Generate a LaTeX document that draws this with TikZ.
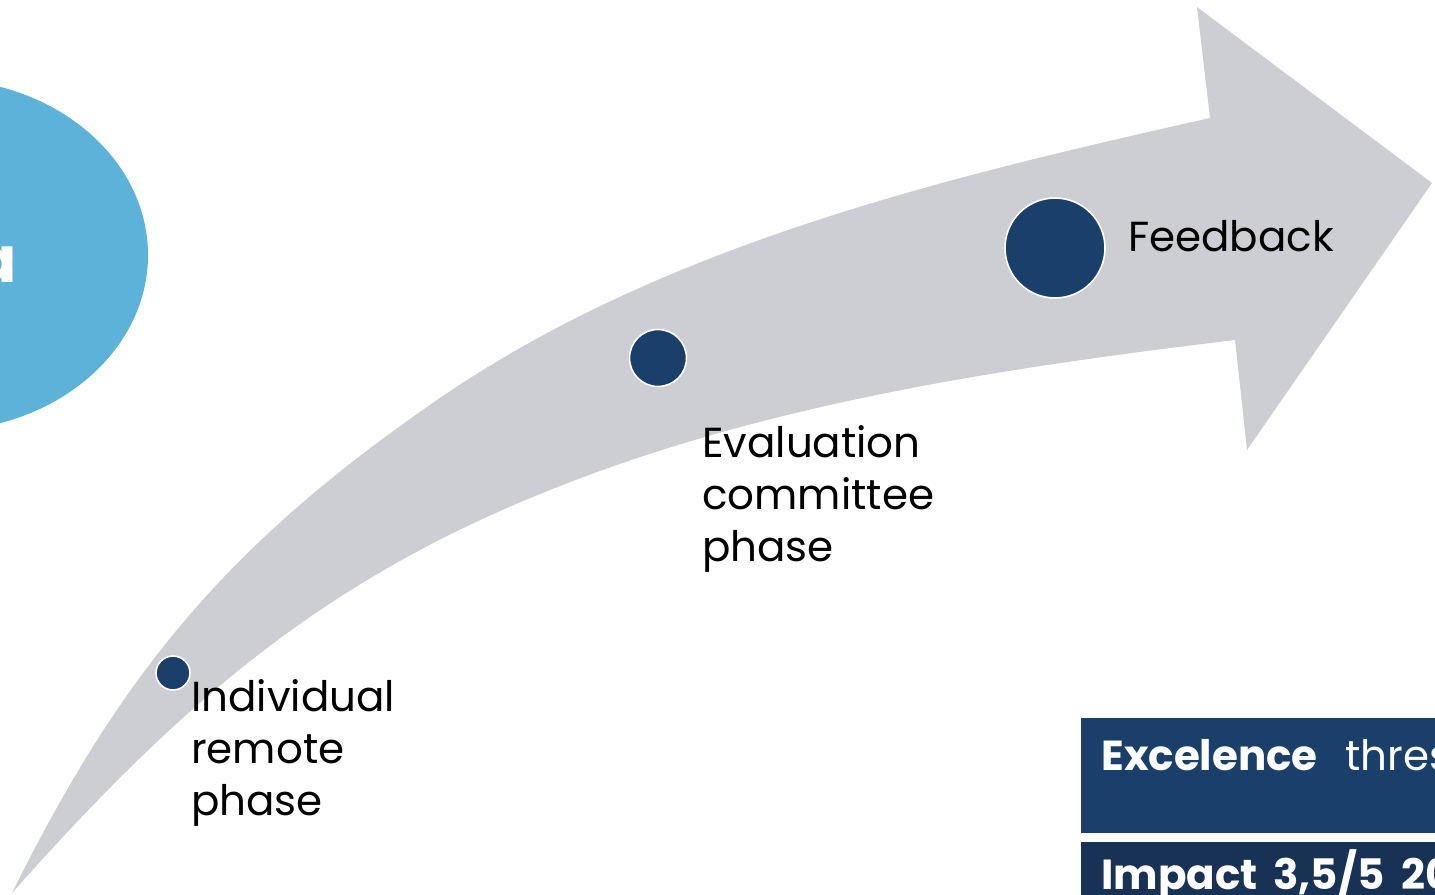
\documentclass[tikz,border=0pt]{standalone}
\usepackage{fontspec}
\setmainfont{Poppins}
\definecolor{arrowgray}{RGB}{205,206,211}
\definecolor{navy}{RGB}{26,63,107}
\definecolor{navydark}{RGB}{24,50,86}
\definecolor{skyblue}{RGB}{93,178,218}
\tikzset{
  phasedot/.style={circle, fill=navy, draw=white, line width=1.2pt, inner sep=0pt},
  phaselabel/.style={anchor=north west, inner sep=0pt, align=left, font=\fontsize{31.5}{39}\selectfont},
  boxtext/.style={anchor=base west, inner sep=0.75pt, text=white, font=\fontsize{31.5}{39}\selectfont}
}

\begin{document}
\begin{tikzpicture}[x=0.75pt,y=0.75pt,yscale=-1,xscale=1]
\useasboundingbox (0,0) rectangle (1435,895);

%Shape: Ellipse [id:ellipse-left]
\fill [skyblue] (-62,255) ellipse [x radius=210, y radius=176];
% Text Node
\draw (17,282) node [anchor=base east] [inner sep=0pt, text=white, font=\bfseries\fontsize{48}{48}\selectfont] (ellipsetext) {a};

%Shape: Curved Arrow [id:arrow-main]
\fill [arrowgray] (12,893) .. controls (123,669) and (231,542) .. (437,400) .. controls (662,245) and (943,178) .. (1210,118) -- (1197,7) -- (1432,183) -- (1247,450) -- (1235,340) .. controls (1003,368) and (767,403) .. (550,490) .. controls (327,579) and (185,698) .. (13,892) -- cycle ;

%Shape: Rectangle [id:box-excellence]
\fill [navy] (1081,718) rectangle (1440,833) ;
%Shape: Rectangle [id:box-impact]
\fill [navydark] (1081,842) rectangle (1440,900) ;

%Shape: Circle [id:dots]
\node [phasedot, minimum size=25.5pt] (dotremote) at (173,673) {};
\node [phasedot, minimum size=42.75pt] (dotcommittee) at (658,358) {};
\node [phasedot, minimum size=75pt] (dotfeedback) at (1055,248) {};

% Text Node
\draw (1127,252) node [anchor=base west, inner sep=0.75pt, font=\fontsize{31.5}{39}\selectfont] (feedback) {Feedback};
% Text Node
\draw (702,425) node [phaselabel] (committee) {Evaluation\\committee\\phase};
% Text Node
\draw (191,679) node [phaselabel] (remote) {Individual\\remote\\phase};

% Text Node
\draw (1100,770) node [boxtext] (excellence) {\bfseries Excelence};
% Text Node
\draw (1344,770) node [boxtext] (threshold) {thres};
% Text Node
\draw (1100,889) node [boxtext] (impact) {\bfseries Impact};
% Text Node
\draw (1272,889) node [boxtext] (impactscore) {\bfseries 3,5/5};
% Text Node
\draw (1400,889) node [boxtext] (impactyear) {\bfseries 20};

\end{tikzpicture}
\end{document}
